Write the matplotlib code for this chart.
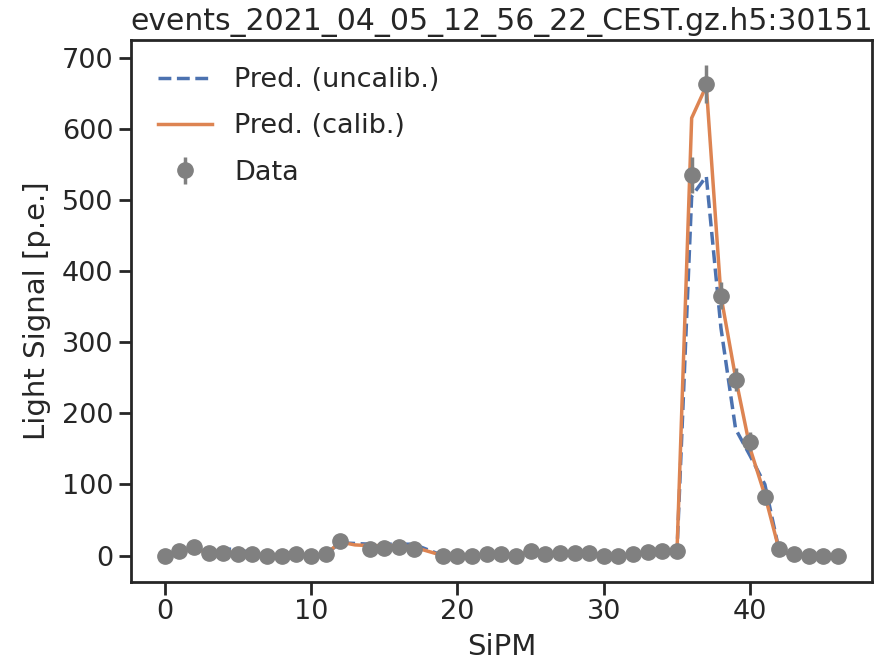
import numpy as np
import matplotlib
matplotlib.use('Agg')
import matplotlib.pyplot as plt

# SiPM channel index
sipm = np.arange(47)

# measured light signal (p.e.), channels 13 and 18 have no data
data = [0, 7, 12, 4, 4, 2, 2, -1, -1, 2, -1, 2, 21, np.nan, 9, 11, 12, 9, np.nan, -1,
        -1, -1, 2, 2, -1, 7, 2, 4, 4, 3, -1, -1, 2, 5, 7, 7, 535, 663, 365, 247,
        160, 82, 9, 2, 0, 0, 0]
data_err = [1, 3, 3, 2, 2, 1, 1, 1, 1, 1, 1, 1, 5, np.nan, 3, 3, 3, 3, np.nan, 1,
            1, 1, 1, 1, 1, 3, 1, 2, 2, 2, 1, 1, 1, 2, 3, 3, 25, 27, 19, 16,
            13, 9, 3, 1, 1, 1, 1]

pred_uncalib = [0, 6, 10, 5, 9, 9, 3, 0, 0, 2, 0, 2, 18, 17, 16, 16, 16, 16, 8, 0,
                0, 0, 1, 2, 1, 5, 3, 4, 4, 3, 1, 0, 2, 4, 6, 7, 505, 533, 320, 178,
                140, 100, 5, 2, 0, 0, 0]
pred_calib = [0, 6, 10, 4, 5, 4, 2, 0, 0, 2, 0, 2, 19, 15, 14, 14, 14, 12, 6, 0,
              0, 0, 1, 2, 1, 5, 3, 4, 4, 3, 1, 0, 2, 4, 6, 7, 615, 660, 365, 250,
              150, 85, 6, 2, 0, 0, 0]

title = 'events_2021_04_05_12_56_22_CEST.gz.h5:30151'

txt = '#262626'
plt.rcParams.update({
    'font.family': 'DejaVu Sans',
    'font.size': 19.5,
    'text.color': txt,
    'axes.labelcolor': txt,
    'xtick.color': txt,
    'ytick.color': txt,
    'axes.edgecolor': txt,
    'axes.linewidth': 2,
    'xtick.major.width': 2,
    'ytick.major.width': 2,
    'xtick.major.size': 9,
    'ytick.major.size': 9,
})

fig = plt.figure(figsize=(8.85, 6.67), dpi=100)
ax = fig.add_axes([0.148, 0.128, 0.837, 0.812])

ax.plot(sipm, pred_uncalib, '--', color='#4c72b0', lw=2.5, label='Pred. (uncalib.)')
ax.plot(sipm, pred_calib, '-', color='#dd8452', lw=2.5, label='Pred. (calib.)')
ax.errorbar(sipm, data, yerr=data_err, fmt='o', color='gray', ms=11, elinewidth=2.5,
            label='Data')

ax.set_xlabel('SiPM', fontsize=21, labelpad=6)
ax.set_ylabel('Light Signal [p.e.]', fontsize=21, labelpad=8)
ax.set_title(title, fontsize=21.5, pad=7)
ax.set_yticks([0, 100, 200, 300, 400, 500, 600, 700])
ax.legend(loc='upper left', frameon=False, labelspacing=0.75, borderaxespad=0.6)

plt.savefig('out.png', dpi=100)
